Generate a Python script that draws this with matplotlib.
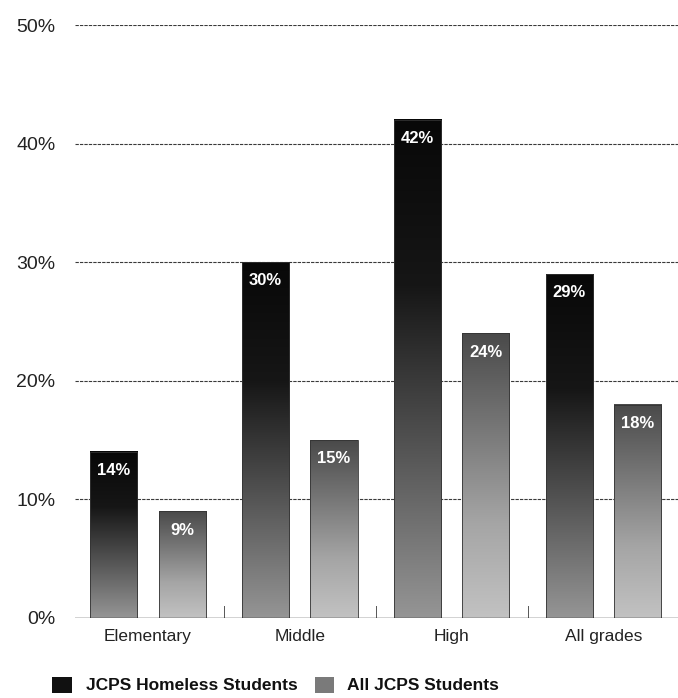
import numpy as np
import matplotlib.pyplot as plt
from matplotlib.patches import Rectangle
from matplotlib.colors import LinearSegmentedColormap

plt.rcParams['font.family'] = ['Liberation Sans', 'DejaVu Sans']

categories = ["Elementary", "Middle", "High", "All grades"]
homeless = [14, 30, 42, 29]
all_students = [9, 15, 24, 18]
series_names = ["JCPS Homeless Students", "All JCPS Students"]
yticks = [0, 10, 20, 30, 40, 50]

DPI = 100
W, H = 678, 698

# top colour -> bottom colour for each series
dark_cmap = LinearSegmentedColormap.from_list("dark", ["#080808", "#161616", "#555555", "#959595"])
light_cmap = LinearSegmentedColormap.from_list("light", ["#4a4a4a", "#777777", "#a5a5a5", "#c2c2c2"])

fig = plt.figure(figsize=(W / DPI, H / DPI), dpi=DPI)
ax = fig.add_axes([75 / W, 1 - 618 / H, 603 / W, 593 / H])
ax.set_xlim(-0.48, 3.49)
ax.set_ylim(0, 50)

width = 0.31
offset = 0.225
x = np.arange(len(categories))
grad = np.linspace(0, 1, 256).reshape(-1, 1)


def gradient_bar(xc, h, cmap):
    ax.imshow(grad, cmap=cmap, aspect="auto", origin="upper",
              extent=(xc - width / 2, xc + width / 2, 0, h), zorder=2,
              interpolation="bilinear")
    ax.add_patch(Rectangle((xc - width / 2, 0), width, h, fill=False,
                           edgecolor="#333333", lw=0.6, zorder=3))
    ax.text(xc, h - 0.95, f"{h}%", color="white", fontsize=12, fontweight="bold",
            ha="center", va="top", zorder=4)


for i in x:
    gradient_bar(i - offset, homeless[i], dark_cmap)
    gradient_bar(i + offset, all_students[i], light_cmap)

for yv in yticks[1:]:
    ax.axhline(yv, color="#3a3a3a", lw=0.8, ls=(0, (3, 1)), zorder=1)
ax.axhline(0, color="#222222", lw=1.0, zorder=3)

# small separators between groups at the baseline
for xs in [0.5, 1.5, 2.5]:
    ax.plot([xs, xs], [0, 1.0], color="#555555", lw=0.7, zorder=1)

ax.set_yticks(yticks)
ax.set_yticklabels([f"{v}%" for v in yticks], fontsize=14, color="#222222")
ax.set_xticks(x)
ax.set_xticklabels(categories, fontsize=12.5, color="#222222")
ax.tick_params(axis="y", length=0, pad=14)
ax.tick_params(axis="x", length=0, pad=8)
for s in ax.spines.values():
    s.set_visible(False)

# legend row along the bottom
fig.patches.append(Rectangle((52 / W, 1 - 693 / H), 20 / W, 16 / H,
                             transform=fig.transFigure, facecolor="#111111",
                             edgecolor="none"))
fig.text(86 / W, 1 - 685 / H, series_names[0], fontsize=12.5, fontweight="bold",
         va="center", ha="left", color="#111111")
fig.patches.append(Rectangle((315 / W, 1 - 693 / H), 19 / W, 16 / H,
                             transform=fig.transFigure, facecolor="#7a7a7a",
                             edgecolor="none"))
fig.text(347 / W, 1 - 685 / H, series_names[1], fontsize=12.5, fontweight="bold",
         va="center", ha="left", color="#111111")

fig.savefig("out.png", dpi=DPI, facecolor="white")
